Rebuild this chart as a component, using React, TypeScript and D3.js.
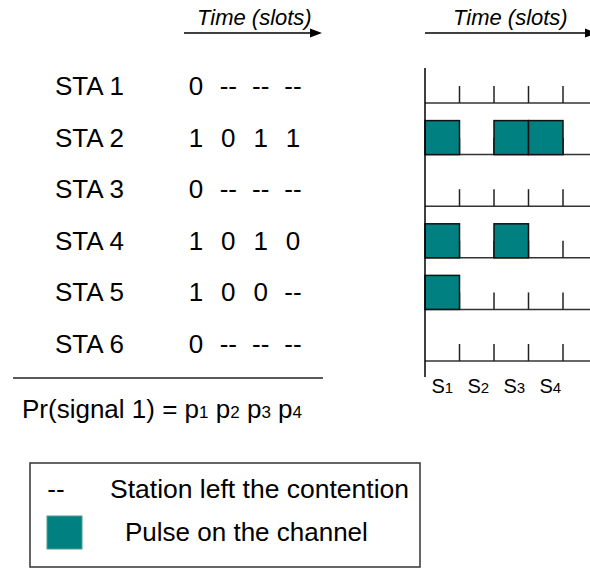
import React from "react";
import * as d3 from "d3";

const stations = ["STA 1", "STA 2", "STA 3", "STA 4", "STA 5", "STA 6"];
const bits: string[][] = [
  ["0", "--", "--", "--"],
  ["1", "0", "1", "1"],
  ["0", "--", "--", "--"],
  ["1", "0", "1", "0"],
  ["1", "0", "0", "--"],
  ["0", "--", "--", "--"],
];
const slots = ["1", "2", "3", "4"];
const axisTitle = "Time (slots)";
const probLabel = "Pr(signal 1) = ";
const legendItems = ["Station left the contention", "Pulse on the channel"];

const W = 590;
const H = 569;
const FONT = "'Liberation Sans', Arial, Helvetica, sans-serif";
const TEAL = "#008080";

export default function App() {
  const rowY = d3.scaleLinear().domain([0, stations.length - 1]).range([103, 361]);
  const slotX = d3.scaleLinear().domain([0, slots.length]).range([425, 563]);
  const colX = d3.scaleLinear().domain([0, slots.length - 1]).range([196, 293]);
  const slotW = slotX(1) - slotX(0);
  const tickH = 17;
  const boxH = 34;

  const arrow = (x1: number, x2: number, y: number) => (
    <g>
      <line x1={x1} x2={x2 - 11} y1={y} y2={y} stroke="#000" strokeWidth={1.5} />
      <path d={`M${x2},${y} L${x2 - 12},${y - 4.5} L${x2 - 12},${y + 4.5} Z`} fill="#000" />
    </g>
  );

  return (
    <svg
      width={W}
      height={H}
      style={{ position: "absolute", left: 0, top: 0, background: "#fff" }}
      fontFamily={FONT}
    >
      {/* titles + arrows */}
      <text x={197} y={25} fontSize={22} fontStyle="italic">{axisTitle}</text>
      {arrow(184, 322, 33)}
      <text x={453} y={25} fontSize={22} fontStyle="italic">{axisTitle}</text>
      {arrow(425, 597, 33)}

      {/* left table */}
      {stations.map((s, i) => (
        <g key={s}>
          <text x={55} y={rowY(i) - 8} fontSize={26}>{s}</text>
          {bits[i].map((b, j) => (
            <text key={j} x={colX(j)} y={rowY(i) - 8} fontSize={26} textAnchor="middle">{b}</text>
          ))}
        </g>
      ))}
      <line x1={13} x2={323} y1={378} y2={378} stroke="#222" strokeWidth={1.5} />
      <text x={22} y={418} fontSize={26}>
        {probLabel}
        {slots.map((s, j) => (
          <tspan key={j}>
            {"p"}
            <tspan fontSize={17}>{s}</tspan>
            {j < slots.length - 1 ? " " : ""}
          </tspan>
        ))}
      </text>

      {/* right timeline */}
      {stations.map((s, i) => (
        <g key={"r" + s}>
          <line x1={slotX(0)} x2={W} y1={rowY(i)} y2={rowY(i)} stroke="#333" strokeWidth={1.5} />
          {slots.map((_, j) => (
            <line
              key={j}
              x1={slotX(j + 1)}
              x2={slotX(j + 1)}
              y1={rowY(i)}
              y2={rowY(i) - tickH}
              stroke="#222"
              strokeWidth={1.5}
            />
          ))}
          {bits[i].map((b, j) =>
            b === "1" ? (
              <rect
                key={"b" + j}
                x={slotX(j)}
                y={rowY(i) - boxH}
                width={slotW}
                height={boxH}
                fill={TEAL}
                stroke="#111"
                strokeWidth={1.5}
              />
            ) : null
          )}
        </g>
      ))}
      <line x1={slotX(0)} x2={slotX(0)} y1={68} y2={377} stroke="#000" strokeWidth={1.5} />
      {slots.map((s, j) => (
        <text key={"s" + j} x={slotX(j) + slotW / 2 + j * 1.5} y={393} fontSize={20} textAnchor="middle">
          {"S"}
          <tspan fontSize={15}>{s}</tspan>
        </text>
      ))}

      {/* legend */}
      <rect x={30} y={463} width={390} height={104} fill="#fff" stroke="#333" strokeWidth={1.5} />
      <text x={56} y={498} fontSize={26} textAnchor="middle">--</text>
      <text x={110} y={498} fontSize={26.5}>{legendItems[0]}</text>
      <rect x={47} y={516} width={35} height={33} fill={TEAL} stroke="#4aa08c" strokeWidth={1} />
      <text x={125} y={541} fontSize={26}>{legendItems[1]}</text>
    </svg>
  );
}
